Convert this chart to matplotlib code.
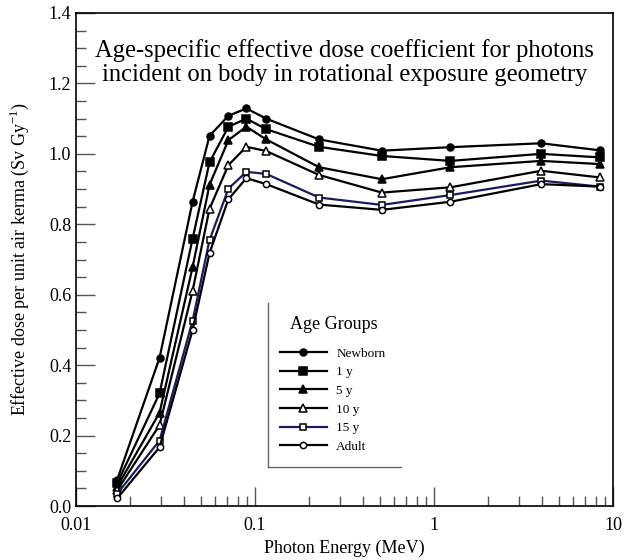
import numpy as np
import matplotlib
matplotlib.use('Agg')
import matplotlib.pyplot as plt
from matplotlib.ticker import FixedLocator, MultipleLocator, NullFormatter, FixedFormatter
from matplotlib.lines import Line2D

plt.rcParams['font.family'] = ['Liberation Serif', 'DejaVu Serif']
plt.rcParams['mathtext.fontset'] = 'custom'
plt.rcParams['mathtext.rm'] = 'Liberation Serif'

# photon energies (MeV)
energy = [0.017, 0.0293, 0.0448, 0.0557, 0.071, 0.0895, 0.1156, 0.228, 0.511, 1.236, 3.97, 8.45]

newborn = [0.075, 0.421, 0.864, 1.051, 1.108, 1.129, 1.100, 1.041, 1.009, 1.019, 1.030, 1.010]
y1 = [0.065, 0.320, 0.759, 0.976, 1.077, 1.100, 1.070, 1.020, 0.994, 0.980, 1.000, 0.990]
y5 = [0.055, 0.265, 0.678, 0.912, 1.039, 1.077, 1.041, 0.962, 0.928, 0.962, 0.980, 0.971]
y10 = [0.045, 0.230, 0.611, 0.844, 0.968, 1.020, 1.008, 0.940, 0.890, 0.905, 0.952, 0.933]
y15 = [0.035, 0.186, 0.526, 0.755, 0.901, 0.949, 0.943, 0.876, 0.855, 0.883, 0.924, 0.907]
adult = [0.022, 0.167, 0.500, 0.718, 0.871, 0.931, 0.914, 0.856, 0.841, 0.864, 0.914, 0.907]

labels = ['Newborn', '1 y', '5 y', '10 y', '15 y', 'Adult']
series = [newborn, y1, y5, y10, y15, adult]
markers = ['o', 's', '^', '^', 's', 'o']
fills = ['black', 'black', 'black', 'white', 'white', 'white']
colors = ['black', 'black', 'black', 'black', '#1c1c5c', 'black']
msizes = [5, 5.5, 5.5, 5.5, 4.5, 4.5]

fig = plt.figure(figsize=(6.25, 5.6), dpi=100)
ax = fig.add_axes([0.1216, 0.0964, 0.8592, 0.8804])

for vals, lab, m, fc, c, ms in zip(series, labels, markers, fills, colors, msizes):
    ax.plot(energy, vals, color=c, lw=1.6, marker=m, markersize=ms,
            markerfacecolor=fc, markeredgecolor='black', markeredgewidth=1.1, label=lab)

ax.set_xscale('log')
ax.set_xlim(0.01, 10)
ax.set_ylim(0, 1.4)

ax.xaxis.set_major_locator(FixedLocator([0.01, 0.1, 1, 10]))
ax.xaxis.set_major_formatter(FixedFormatter(['0.01', '0.1', '1', '10']))
ax.xaxis.set_minor_formatter(NullFormatter())
ax.yaxis.set_major_locator(MultipleLocator(0.2))
ax.yaxis.set_minor_locator(MultipleLocator(0.05))
ax.yaxis.set_major_formatter(matplotlib.ticker.FormatStrFormatter('%.1f'))

ax.tick_params(which='major', direction='in', length=14, width=1, labelsize=13,
               top=False, right=False, color='#555555')
ax.tick_params(axis='x', which='major', pad=8)
ax.tick_params(which='minor', direction='in', length=7, width=1,
               top=False, right=False, color='#555555')
for sp in ax.spines.values():
    sp.set_linewidth(1.2)

ax.set_xlabel('Photon Energy (MeV)', fontsize=13, labelpad=4)
ax.set_ylabel('Effective dose per unit air kerma (Sv Gy$^{\\mathregular{-1}}$)', fontsize=13, labelpad=13)

ax.text(0.5, 0.948, 'Age-specific effective dose coefficient for photons\nincident on body in rotational exposure geometry',
        transform=ax.transAxes, ha='center', va='top', fontsize=17.7, linespacing=1.12)

# legend: title as separate text, entries below
ax.text(0.48, 0.368, 'Age Groups', transform=ax.transAxes, ha='center', va='center', fontsize=13)
leg = ax.legend(loc='upper left', bbox_to_anchor=(0.362, 0.34), frameon=False,
                fontsize=9.5, handlelength=3.6, handletextpad=0.7, labelspacing=0.48,
                borderpad=0.2)

# partial legend frame (left and bottom edges)
ax.add_line(Line2D([0.357, 0.357], [0.079, 0.412], transform=ax.transAxes, color='#666666', lw=1))
ax.add_line(Line2D([0.357, 0.605], [0.079, 0.079], transform=ax.transAxes, color='#666666', lw=1))

fig.savefig('out.png', dpi=100)
